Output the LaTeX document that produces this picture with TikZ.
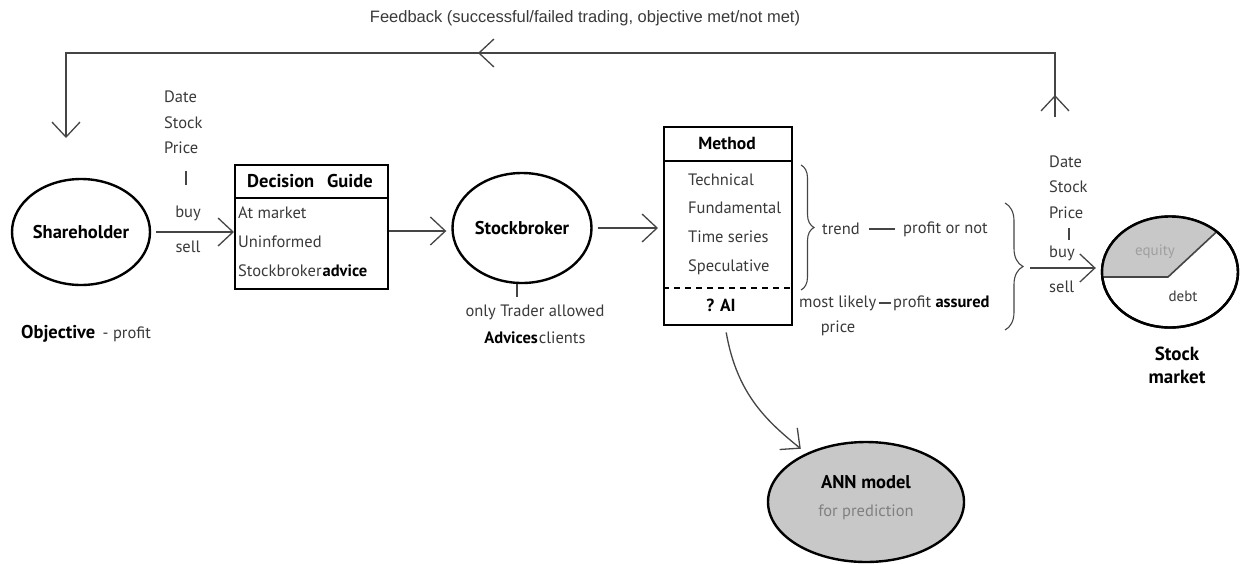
\documentclass[tikz,border=0pt]{standalone}
\usepackage{fontspec}
\setmainfont{PT Sans}
\newfontfamily\fbfont{Liberation Sans}
\usetikzlibrary{arrows.meta,shapes.geometric,decorations.markings,decorations.pathreplacing,calc}
\definecolor{linegray}{HTML}{454545}
\definecolor{txtgray}{HTML}{3A3A3A}
\definecolor{panefill}{HTML}{C8C8C8}
\tikzset{
  barb/.tip={Straight Barb[length=15pt,width=28pt,line width=1.3pt]},
  conn/.style={draw=linegray, line width=1.3pt, -{barb}},
  plain/.style={draw=linegray, line width=1.3pt},
  blob/.style={ellipse, draw=black, line width=2.4pt, inner sep=0pt},
  frame/.style={draw=black, line width=2.4pt, inner sep=0pt, anchor=north west},
  lbl/.style={text=txtgray, font=\fontsize{16.5}{18}\selectfont, inner sep=0pt},
  hd/.style={text=black, font=\fontsize{18.5}{20}\selectfont\bfseries, inner sep=0pt},
  hds/.style={text=black, font=\fontsize{17.5}{20}\selectfont\bfseries, inner sep=0pt},
  fb/.style={text=txtgray, font=\fbfont\fontsize{16.5}{18}\selectfont, inner sep=0pt},
  curly/.style={draw=linegray, line width=1.1pt, decorate},
}
\begin{document}
\begin{tikzpicture}[x=1pt,y=-1pt]
\useasboundingbox (0,0) rectangle (1241,563);
\fill[white] (0,0) rectangle (1241,563);

% main nodes
\node[blob, hd, minimum width=138pt, minimum height=106pt] (sh) at (81,232) {Shareholder};
\node[frame, minimum width=153pt, minimum height=124pt] (dg) at (234,164) {};
\node[blob, hd, minimum width=139pt, minimum height=110pt] (sb) at (522,228) {Stockbroker};
\node[frame, minimum width=128pt, minimum height=198pt] (method) at (663,126) {};
\node[blob, minimum width=136pt, minimum height=111pt] (sm) at (1170,272) {};
\node[blob, fill=panefill, minimum width=196pt, minimum height=120pt] (ann) at (866,502) {};

% decision guide table
\draw[black, line width=2.4pt] (234,198) -- (387,198);
\node[hd] (dgH) at (310,181) {Decision\hspace{0.7em}Guide};
\node[lbl, anchor=west] (dg1) at (238,213) {At market};
\node[lbl, anchor=west] (dg2) at (238,242) {Uninformed};
\node[lbl, anchor=west] (dg3) at (238,271) {Stockbroker\hspace{1pt}\textbf{\color{black}advice}};

% method table
\draw[black, line width=2.4pt] (663,161) -- (791,161);
\draw[black, line width=2.4pt, dash pattern=on 6pt off 5pt] (663,288) -- (791,288);
\node[hds] (mH) at (727,143) {Method};
\node[lbl, anchor=west] (m1) at (688,180) {Technical};
\node[lbl, anchor=west] (m2) at (688,208) {Fundamental};
\node[lbl, anchor=west] (m3) at (688,237) {Time series};
\node[lbl, anchor=west] (m4) at (688,267) {Speculative};
\node[hds] (mAI) at (721,305) {? AI};

% data labels on the left
\node[lbl, anchor=west] (d1) at (164,97) {Date};
\node[lbl, anchor=west] (d2) at (164,123) {Stock};
\node[lbl, anchor=west] (d3) at (164,148) {Price};
\coordinate (bar1t) at (186,171);
\coordinate (bar1b) at (186,185);
\draw[plain] (bar1t) -- (bar1b);
\node[lbl] (buy1) at (188,213) {buy};
\node[lbl] (sell1) at (188,247) {sell};

% data labels on the right
\node[lbl, anchor=west] (e1) at (1049,162) {Date};
\node[lbl, anchor=west] (e2) at (1049,187) {Stock};
\node[lbl, anchor=west] (e3) at (1049,213) {Price};
\coordinate (bar2t) at (1069,228);
\coordinate (bar2b) at (1069,240);
\draw[plain] (bar2t) -- (bar2b);
\node[lbl, anchor=west] (buy2) at (1049,253) {buy};
\node[lbl, anchor=west] (sell2) at (1049,287) {sell};

% stockbroker notes
\coordinate (sbTick) at (517,297);
\draw[plain] (sb.south -| sbTick) -- (sbTick);
\node[lbl] (sbN1) at (535,312) {only Trader allowed};
\node[lbl] (sbN2) at (535,338) {\textbf{\color{black}Advices}\hspace{1pt}clients};

% objective
\node[hd, anchor=west] (obj) at (21,334) {Objective\hspace{0.4em}{\mdseries\color{txtgray}\fontsize{16.5}{18}\selectfont- profit}};

% braces and outcomes
\draw[curly, decoration={brace, amplitude=13pt}] (801,165) -- (801,290);
\node[lbl, anchor=west] (trend) at (822,229) {trend};
\node[lbl, anchor=west] (pon) at (903,229) {profit or not};
\draw[plain, shorten <=9pt, shorten >=8pt] (trend.east) -- (pon.west);
\node[lbl, anchor=west] (ml) at (799,303) {most likely};
\node[lbl] (price) at (838,328) {price};
\node[lbl, anchor=west] (pa) at (893,303) {profit \textbf{\color{black}assured}};
\draw[plain, shorten <=3pt, shorten >=2pt] (ml.east) -- (pa.west);
\draw[curly, decoration={brace, amplitude=18pt}] (1005,203) -- (1005,330);
\coordinate (b2tip) at (1030,268);

% stock market split into equity and debt
\begin{scope}
  \clip (sm.center) ellipse [x radius=68pt, y radius=55.5pt];
  \fill[panefill] (1095,277) -- (1168,277) -- (1240,210) -- (1095,200) -- cycle;
  \draw[linegray, line width=1.6pt] (1095,277) -- (1168,277) -- (1240,210);
\end{scope}
\draw[black, line width=2.4pt] (sm.center) ellipse [x radius=68pt, y radius=55.5pt];
\node[text=gray!75, font=\fontsize{15}{16}\selectfont, inner sep=0pt] (eq) at (1155,252) {equity};
\node[lbl, font=\fontsize{15}{16}\selectfont] (debt) at (1183,296) {debt};
\node[hd, align=center, font=\fontsize{19}{23}\selectfont\bfseries] (smL) at (1177,365) {Stock\\market};

% ANN model
\node[hd] (annT) at (866,482) {ANN model};
\node[lbl, text=gray] (annS) at (866,512) {for prediction};

% flow connectors
\draw[conn, shorten <=5pt] (sh.east) -- (sh.east -| dg.west);
\draw[conn, shorten >=5pt] (dg.east |- 0,231) -- (sb.west |- 0,231);
\draw[conn, shorten <=5pt, shorten >=5pt] (sb.east) -- (sb.east -| method.west);
\draw[conn, shorten >=5pt] (b2tip) -- (b2tip -| sm.west);
\draw[conn, shorten >=7pt] ($(method.south)+(-2,6)$) .. controls (737,395) and (768,422) .. (ann);

% feedback loop
\coordinate (fbS) at (1055,117);
\coordinate (fbE) at (66,138);
\coordinate (fbTop) at (0,53);
\draw[plain, -{barb},
  decoration={markings,
    mark=at position 22pt with {\arrow{barb}},
    mark=at position 641pt with {\arrow{barb}}},
  postaction={decorate}]
  (fbS) -- (fbS |- fbTop) -- (fbE |- fbTop) -- (fbE);
\node[fb] (fbL) at (585,18) {Feedback (successful/failed trading, objective met/not met)};
\end{tikzpicture}
\end{document}
